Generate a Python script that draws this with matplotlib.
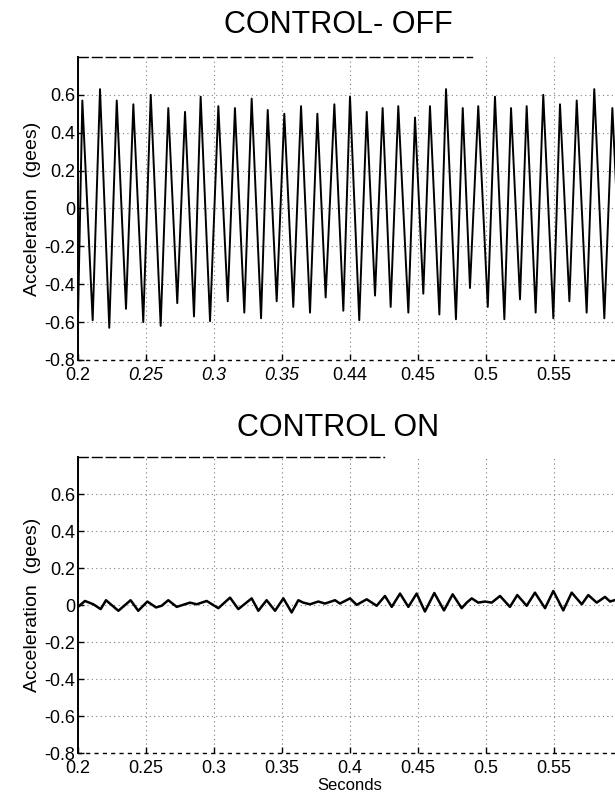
import matplotlib.pyplot as plt

plt.rcParams['font.family'] = ['Liberation Sans', 'DejaVu Sans']

# CONTROL OFF: sawtooth-like response, read as start, peaks and troughs
off_start_t = 0.2
off_start_v = -0.58
peak_t = [0.2032, 0.2162, 0.2285, 0.2407, 0.2535, 0.2664, 0.2787, 0.2902, 0.3032, 0.3154,
          0.3277, 0.3395, 0.3517, 0.3640, 0.3760, 0.3885, 0.4000, 0.4123, 0.4240, 0.4355,
          0.4478, 0.4588, 0.4706, 0.4829, 0.4943, 0.5066, 0.5184, 0.5299, 0.5421, 0.5544,
          0.5667, 0.5796, 0.5929]
peak_v = [0.57, 0.63, 0.57, 0.55, 0.60, 0.53, 0.51, 0.59, 0.54, 0.53,
          0.58, 0.52, 0.50, 0.54, 0.50, 0.55, 0.59, 0.51, 0.53, 0.54,
          0.48, 0.54, 0.63, 0.53, 0.54, 0.59, 0.53, 0.54, 0.60, 0.55,
          0.57, 0.63, 0.53]
trough_t = [0.2108, 0.2230, 0.2353, 0.2480, 0.2608, 0.2730, 0.2853, 0.2971, 0.3101, 0.3223,
            0.3346, 0.3461, 0.3583, 0.3706, 0.3821, 0.3951, 0.4068, 0.4184, 0.4299, 0.4429,
            0.4539, 0.4657, 0.4779, 0.4882, 0.5013, 0.5135, 0.5250, 0.5365, 0.5495, 0.5613,
            0.5740, 0.5870, 0.6000]
trough_v = [-0.59, -0.63, -0.53, -0.60, -0.62, -0.50, -0.57, -0.595, -0.49, -0.55,
            -0.58, -0.49, -0.52, -0.55, -0.47, -0.54, -0.59, -0.46, -0.52, -0.55,
            -0.45, -0.56, -0.585, -0.42, -0.52, -0.585, -0.48, -0.55, -0.58, -0.49,
            -0.55, -0.58, -0.55]

# CONTROL ON: small residual vibration
on_t = [0.2010, 0.2051, 0.2113, 0.2167, 0.2206, 0.2297, 0.2387, 0.2443, 0.2510, 0.2574,
        0.2615, 0.2664, 0.2726, 0.2824, 0.2873, 0.2946, 0.3032, 0.3118, 0.3179, 0.3277,
        0.3326, 0.3387, 0.3449, 0.3510, 0.3571, 0.3620, 0.3657, 0.3706, 0.3767, 0.3816,
        0.3890, 0.3926, 0.4000, 0.4049, 0.4123, 0.4196, 0.4257, 0.4307, 0.4368, 0.4429,
        0.4490, 0.4551, 0.4620, 0.4691, 0.4755, 0.4821, 0.4858, 0.4895, 0.4943, 0.4993,
        0.5042, 0.5103, 0.5176, 0.5230, 0.5299, 0.5360, 0.5434, 0.5495, 0.5568, 0.5630,
        0.5704, 0.5752, 0.5814, 0.5875, 0.5912, 0.5944]
on_v = [-0.004, 0.022, 0.004, -0.022, 0.026, -0.031, 0.026, -0.031, 0.019, -0.013,
        -0.004, 0.026, -0.010, 0.013, 0.004, 0.022, -0.017, 0.040, -0.022, 0.036,
        -0.031, 0.026, -0.031, 0.036, -0.040, 0.026, 0.013, 0.004, 0.019, 0.008,
        0.026, 0.008, 0.036, 0.001, 0.031, -0.004, 0.049, -0.010, 0.062, -0.010,
        0.062, -0.035, 0.065, -0.029, 0.058, -0.017, 0.013, 0.036, 0.013, 0.019,
        0.013, 0.049, -0.010, 0.054, -0.004, 0.067, -0.017, 0.076, -0.029, 0.067,
        0.004, 0.054, 0.013, 0.044, 0.019, 0.026]

xticks = [0.2, 0.25, 0.3, 0.35, 0.4, 0.45, 0.5, 0.55]
off_xlabels = ["0.2", "0.25", "0.3", "0.35", "0.44", "0.45", "0.5", "0.55"]
on_xlabels = ["0.2", "0.25", "0.3", "0.35", "0.4", "0.45", "0.5", "0.55"]
yticks = [-0.8, -0.6, -0.4, -0.2, 0, 0.2, 0.4, 0.6]
ylabels = ["-0.8", "-0.6", "-0.4", "-0.2", "0", "0.2", "0.4", "0.6"]

off_t = [off_start_t]
off_v = [off_start_v]
for pt, pv, tt, tv in zip(peak_t, peak_v, trough_t, trough_v):
    off_t += [pt, tt]
    off_v += [pv, tv]

fig = plt.figure(figsize=(6.15, 8.01), dpi=100)
ax1 = fig.add_axes([0.1268, 0.5506, 0.8846, 0.3783])
ax2 = fig.add_axes([0.1268, 0.0599, 0.8846, 0.3695])


def style(ax, top_end):
    ax.set_xlim(0.2, 0.6)
    ax.set_ylim(-0.8, 0.8)
    ax.set_xticks(xticks)
    ax.set_yticks(yticks)
    ax.set_yticklabels(ylabels, fontsize=13)
    ax.grid(True, color='#808080', linestyle=(0, (1, 3)), linewidth=0.8)
    ax.tick_params(direction='in', length=4, width=1, pad=2, right=True, top=False)
    ax.tick_params(axis='x', pad=5)
    ax.spines['left'].set_linewidth(1.4)
    ax.spines['top'].set_linestyle((0, (7, 3)))
    ax.spines['top'].set_linewidth(1.0)
    ax.spines['top'].set_bounds(0.2, top_end)
    ax.spines['bottom'].set_linestyle((0, (2, 4)))
    ax.spines['bottom'].set_linewidth(1.0)
    ax.set_ylabel("Acceleration  (gees)", fontsize=14, labelpad=2)


ax1.plot(off_t, off_v, color='black', linewidth=1.4)
style(ax1, 0.49)
ax1.set_xticklabels(off_xlabels, fontsize=13)
for lbl, txt in zip(ax1.get_xticklabels(), off_xlabels):
    if txt in ("0.25", "0.3", "0.35"):
        lbl.set_style('italic')

ax2.plot(on_t, on_v, color='black', linewidth=1.8)
style(ax2, 0.425)
ax2.set_xticklabels(on_xlabels, fontsize=13)
ax2.set_xlabel("Seconds", fontsize=12, labelpad=1)

fig.text(0.55, 0.969, "CONTROL- OFF", fontsize=22, ha='center', va='center')
fig.text(0.55, 0.466, "CONTROL ON", fontsize=22, ha='center', va='center')

fig.savefig("out.png", dpi=100)
